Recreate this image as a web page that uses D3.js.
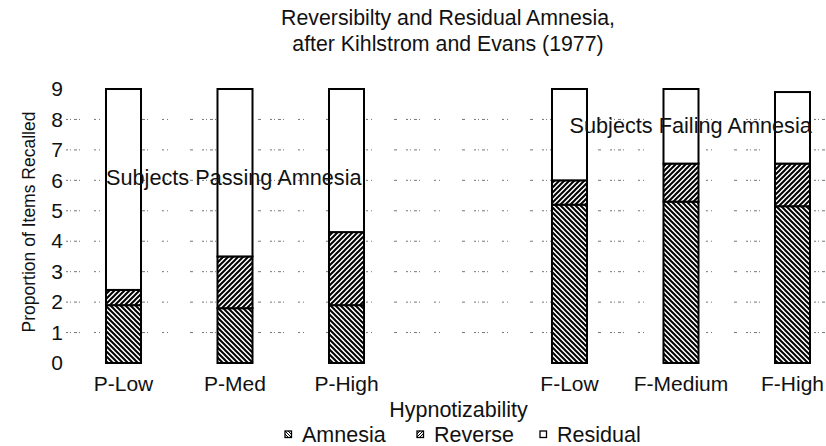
<!DOCTYPE html>
<html>
<head>
<meta charset="utf-8">
<script src="https://cdn.jsdelivr.net/npm/d3@7"></script>
<style>
  html, body { margin: 0; padding: 0; background: #fff; }
  svg { display: block; font-family: "Liberation Sans", Arial, Helvetica, sans-serif; }
</style>
</head>
<body>
<svg id="chart" width="826" height="446"></svg>
<script>
// ---- data ----
const categories = ["P-Low", "P-Med", "P-High", "", "F-Low", "F-Medium", "F-High"];
const amnesia  = [1.9, 1.8, 1.9, null, 5.2, 5.3, 5.15];
const reverse  = [0.5, 1.7, 2.4, null, 0.8, 1.25, 1.4];
const residual = [6.6, 5.5, 4.7, null, 3.0, 2.45, 2.35];
const seriesNames = ["Amnesia", "Reverse", "Residual"];
const yTicks = [0, 1, 2, 3, 4, 5, 6, 7, 8, 9];
const titleLines = ["Reversibilty and Residual Amnesia,", "after Kihlstrom and Evans (1977)"];
const annotationTexts = ["Subjects Passing Amnesia", "Subjects Failing Amnesia"];
const annotationCats = ["P-Low", "F-Low"];
const annotationValues = [5.85, 7.55];

// ---- layout ----
const svg = d3.select("#chart");
const W = 826, H = 446;
const FONT = "Liberation Sans, Arial, sans-serif";

const x = d3.scaleBand()
  .domain(categories)
  .range([67.75, 848.25])
  .paddingInner(0.686)
  .paddingOuter(0.343);

const y = d3.scaleLinear().domain([0, 9]).range([363, 89]);

// patterns
const defs = svg.append("defs");
function hatch(id, dir, s, sw) {
  const p = defs.append("pattern")
    .attr("id", id)
    .attr("patternUnits", "userSpaceOnUse")
    .attr("width", s).attr("height", s);
  p.append("rect").attr("width", s).attr("height", s).attr("fill", "#fff");
  const d = dir === "back"
    ? `M0,0 L${s},${s} M${-s},0 L${s},${2*s} M0,${-s} L${2*s},${s}`
    : `M0,${s} L${s},0 M${-s},${s} L${s},${-s} M0,${2*s} L${2*s},0`;
  p.append("path").attr("d", d).attr("stroke", "#000").attr("stroke-width", sw).attr("fill", "none");
}
hatch("pat-amnesia", "back", 5, 2);
hatch("pat-reverse", "fwd", 5, 2);
hatch("pat-amnesia-s", "back", 3, 1);
hatch("pat-reverse-s", "fwd", 3, 1);
const fills = ["url(#pat-amnesia)", "url(#pat-reverse)", "#fff"];
const legendFills = ["url(#pat-amnesia-s)", "url(#pat-reverse-s)", "#fff"];

// gridlines (sparse, dotted)
const grid = svg.append("g").attr("class", "grid");
grid.selectAll("line")
  .data(yTicks.filter(t => t > 0 && t < 9))
  .join("line")
  .attr("x1", 66).attr("x2", W)
  .attr("y1", d => y(d)).attr("y2", d => y(d))
  .attr("stroke", "#666")
  .attr("stroke-width", 0.9)
  .attr("stroke-dasharray", "2,2,1,3,3,2,1,14,2,3,1,22,3,9");

// y axis: labels only
const yAxis = d3.axisLeft(y).tickValues(yTicks).tickSize(0).tickPadding(0);
const yg = svg.append("g").attr("transform", "translate(63,0)").call(yAxis);
yg.select(".domain").remove();
yg.selectAll("text")
  .attr("font-size", 21)
  .attr("font-family", FONT)
  .attr("fill", "#111");

// x axis: labels only
const xAxis = d3.axisBottom(x).tickSize(0).tickPadding(0);
const xg = svg.append("g").attr("transform", "translate(0,376)").call(xAxis);
xg.select(".domain").remove();
xg.selectAll("text")
  .attr("font-size", 21)
  .attr("font-family", FONT)
  .attr("fill", "#111");

// stacked bars
const rows = categories.map((c, i) => ({ cat: c, Amnesia: amnesia[i], Reverse: reverse[i], Residual: residual[i] }))
  .filter(r => r.Amnesia !== null);
const stack = d3.stack().keys(seriesNames)(rows);

const bars = svg.append("g").attr("class", "bars");
stack.forEach((layer, li) => {
  bars.append("g")
    .selectAll("rect")
    .data(layer)
    .join("rect")
    .attr("x", d => x(d.data.cat))
    .attr("width", x.bandwidth())
    .attr("y", d => y(d[1]))
    .attr("height", d => y(d[0]) - y(d[1]))
    .attr("fill", fills[li])
    .attr("stroke", "#000")
    .attr("stroke-width", 2);
});

// annotations (first anchored at bar's left edge, second at bar centre)
const annoDx = [0, 0.5];
svg.append("g").selectAll("text")
  .data(annotationTexts)
  .join("text")
  .attr("x", (d, i) => x(annotationCats[i]) + annoDx[i] * x.bandwidth())
  .attr("y", (d, i) => y(annotationValues[i]))
  .attr("font-size", 21.7)
  .attr("fill", "#111")
  .text(d => d);

// title
svg.append("g").selectAll("text")
  .data(titleLines)
  .join("text")
  .attr("x", 448)
  .attr("y", (d, i) => 25 + i * 26)
  .attr("text-anchor", "middle")
  .attr("font-size", 21.3)
  .attr("fill", "#111")
  .text(d => d);

// y axis title
svg.append("text")
  .attr("transform", `translate(35,222) rotate(-90)`)
  .attr("text-anchor", "middle")
  .attr("font-size", 17.5)
  .attr("fill", "#111")
  .text("Proportion of Items Recalled");

// x axis title
svg.append("text")
  .attr("x", 458.5)
  .attr("y", 417)
  .attr("text-anchor", "middle")
  .attr("font-size", 21.5)
  .attr("fill", "#111")
  .text("Hypnotizability");

// legend
const legendX = [285, 417, 540];
const lg = svg.append("g").selectAll("g")
  .data(seriesNames)
  .join("g")
  .attr("transform", (d, i) => `translate(${legendX[i]},431)`);
lg.append("rect")
  .attr("width", 6.5).attr("height", 6.5)
  .attr("fill", (d, i) => legendFills[i])
  .attr("stroke", "#000").attr("stroke-width", 1.3);
lg.append("text")
  .attr("x", 17).attr("y", 10.5)
  .attr("font-size", 21.5)
  .attr("fill", "#111")
  .text(d => d);
</script>
</body>
</html>
